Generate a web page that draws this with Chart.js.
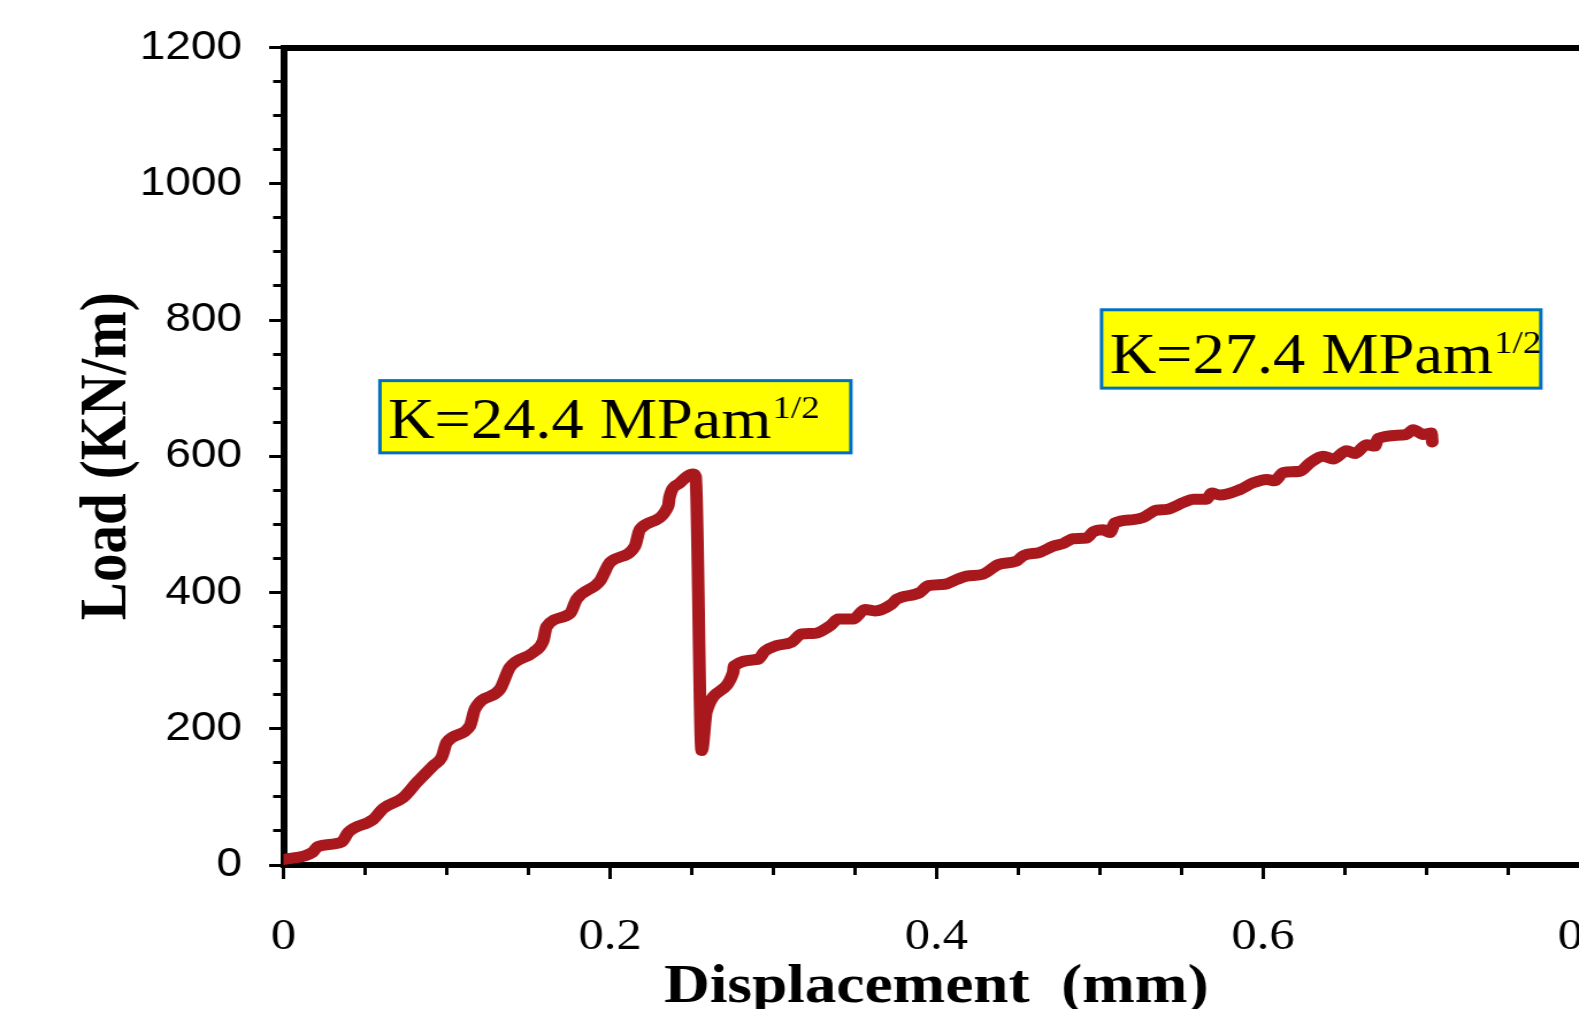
<!DOCTYPE html>
<html>
<head>
<meta charset="utf-8">
<script src="https://cdn.jsdelivr.net/npm/chart.js@4.4.1/dist/chart.umd.min.js"></script>
<style>
  html, body { margin: 0; padding: 0; background: #fff; overflow: hidden; width: 1579px; height: 1009px; }
  /* the source figure is stretched sideways, so the whole canvas is too */
  #wrap { position: absolute; left: 0; top: 0; width: 1442px; height: 1030px; transform: scaleX(1.15); transform-origin: 0 0; }
</style>
</head>
<body>
<div id="wrap"><canvas id="loadChart"></canvas></div>
<script>
// --- DATA ---
const displacement = [0, 0.018, 0.021, 0.0357, 0.0397, 0.055, 0.0611, 0.0734, 0.0816, 0.0918,
  0.0969, 0.1, 0.1142, 0.1173, 0.1326, 0.1387, 0.153, 0.1591, 0.1612, 0.1755,
  0.1796, 0.1939, 0.2, 0.2153, 0.2184, 0.2357, 0.2365, 0.2429, 0.251, 0.2525,
  0.2562, 0.2592, 0.2755, 0.276, 0.2908, 0.2949, 0.302, 0.3113, 0.3174, 0.3256,
  0.3348, 0.3399, 0.349, 0.3562, 0.3623, 0.3726, 0.3756, 0.3899, 0.395, 0.4052,
  0.4124, 0.4185, 0.4287, 0.4379, 0.449, 0.4532, 0.4634, 0.4716, 0.4777, 0.4838,
  0.492, 0.496, 0.5022, 0.5063, 0.5093, 0.5206, 0.5267, 0.5349, 0.541, 0.5512,
  0.5573, 0.5655, 0.5686, 0.5737, 0.5859, 0.5941, 0.6023, 0.6074, 0.6124, 0.6227,
  0.6288, 0.6369, 0.6431, 0.6513, 0.6564, 0.6635, 0.6686, 0.6706, 0.688, 0.6921,
  0.6982, 0.7033, 0.7038];
const load = [8, 19, 27, 34, 48, 67, 83, 99, 121, 146,
  158, 180, 204, 229, 258, 290, 312, 329, 350, 369,
  390, 417, 444, 468, 493, 527, 540, 561, 574, 570,
  168, 226, 283, 292, 302, 314, 322, 327, 339, 340,
  351, 361, 361, 375, 373, 383, 390, 400, 410, 412,
  419, 424, 427, 441, 446, 454, 459, 468, 472, 479,
  480, 489, 492, 488, 502, 507, 510, 521, 522, 532,
  537, 537, 546, 543, 551, 561, 566, 564, 576, 578,
  590, 600, 596, 608, 604, 617, 615, 626, 632, 639,
  632, 634, 621];

const xTickLabels = ['0', '0.2', '0.4', '0.6', '0.8'];
const yTickLabels = ['0', '200', '400', '600', '800', '1000', '1200'];

const noteText = ['K=24.4 MPam', 'K=27.4 MPam'];
const noteSup = ['1/2', '1/2'];

// box corners in data units
const noteBoxes = [
  { x0: 0.0591, x1: 0.3476, y0: 711, y1: 605 },
  { x0: 0.5012, x1: 0.7703, y0: 815, y1: 700 }
];

const serif = '"Liberation Serif", "Times New Roman", serif';
const sans = '"Liberation Sans", Arial, sans-serif';

// --- yellow K boxes ---
const notePlugin = {
  id: 'notes',
  afterDatasetsDraw(chart) {
    const { ctx, scales: { x, y } } = chart;
    noteBoxes.forEach((b, i) => {
      const l = x.getPixelForValue(b.x0), r = x.getPixelForValue(b.x1);
      const t = y.getPixelForValue(b.y0), btm = y.getPixelForValue(b.y1);
      ctx.save();
      ctx.fillStyle = '#FFFF00';
      ctx.fillRect(l, t, r - l, btm - t);
      ctx.strokeStyle = '#0070C0';
      ctx.lineWidth = 3;
      ctx.strokeRect(l, t, r - l, btm - t);
      ctx.fillStyle = '#000';
      ctx.textAlign = 'left';
      ctx.textBaseline = 'alphabetic';
      ctx.font = '56px ' + serif;
      const tx = l + 7, ty = btm - 15;
      ctx.fillText(noteText[i], tx, ty);
      const w = ctx.measureText(noteText[i]).width;
      ctx.font = '32px ' + serif;
      ctx.fillText(noteSup[i], tx + w + 1, ty - 20);
      ctx.restore();
    });
  }
};

const points = displacement.map((d, i) => ({ x: d, y: load[i] }));

new Chart(document.getElementById('loadChart'), {
  type: 'line',
  data: {
    datasets: [{
      data: points,
      xAxisID: 'x',
      yAxisID: 'y',
      borderColor: '#A9181D',
      borderWidth: 11,
      pointRadius: 0,
      fill: false,
      cubicInterpolationMode: 'monotone',
      borderCapStyle: 'round',
      borderJoinStyle: 'round'
    }]
  },
  options: {
    responsive: true,
    maintainAspectRatio: false,
    animation: false,
    layout: { padding: { top: 47.5, right: 60, bottom: 0, left: 0 } },
    plugins: { legend: { display: false }, tooltip: { enabled: false } },
    scales: {
      x: {
        type: 'linear', position: 'bottom', min: 0, max: 0.8, weight: 1,
        ticks: {
          stepSize: 0.2, autoSkip: false, maxRotation: 0,
          callback: (v, i) => xTickLabels[i],
          font: { family: serif, size: 44 }, color: '#000', padding: 32
        },
        grid: { drawOnChartArea: false, tickLength: 14, tickWidth: 3, tickColor: '#000' },
        border: { display: true, width: 6, color: '#000' },
        title: {
          display: true, text: 'Displacement  (mm)', color: '#000',
          font: { family: serif, size: 55, weight: 'bold' },
          padding: { top: 0, bottom: 9 }
        },
        afterFit: s => { s.height = 165; }
      },
      xMinor: {
        type: 'linear', position: 'bottom', min: 0, max: 0.8, weight: 0,
        ticks: { stepSize: 0.05, display: false },
        grid: { drawOnChartArea: false, tickLength: 10, tickWidth: 3, tickColor: '#000' },
        border: { display: false },
        afterFit: s => { s.height = 0; }
      },
      xTop: {
        type: 'linear', position: 'top', min: 0, max: 0.8,
        ticks: { display: false },
        grid: { display: false },
        border: { display: true, width: 6, color: '#000' },
        afterFit: s => { s.height = 0; }
      },
      y: {
        type: 'linear', position: 'left', min: 0, max: 1200, weight: 1,
        ticks: {
          stepSize: 200,
          callback: (v, i) => yTickLabels[i],
          font: { family: sans, size: 40 }, color: '#000', padding: 23.5
        },
        grid: { drawOnChartArea: false, tickLength: 12.5, tickWidth: 3, tickColor: '#000' },
        border: { display: true, width: 6, color: '#000' },
        title: {
          display: true, text: 'Load (KN/m)', color: '#000',
          font: { family: serif, size: 57, weight: 'bold' },
          padding: { top: 60, bottom: 0 }
        },
        afterFit: s => { s.width = 246.5; }
      },
      yMinor: {
        type: 'linear', position: 'left', min: 0, max: 1200, weight: 0,
        ticks: { stepSize: 50, display: false },
        grid: { drawOnChartArea: false, tickLength: 9, tickWidth: 3, tickColor: '#000' },
        border: { display: false },
        afterFit: s => { s.width = 0; }
      }
    }
  },
  plugins: [notePlugin]
});
</script>
</body>
</html>
